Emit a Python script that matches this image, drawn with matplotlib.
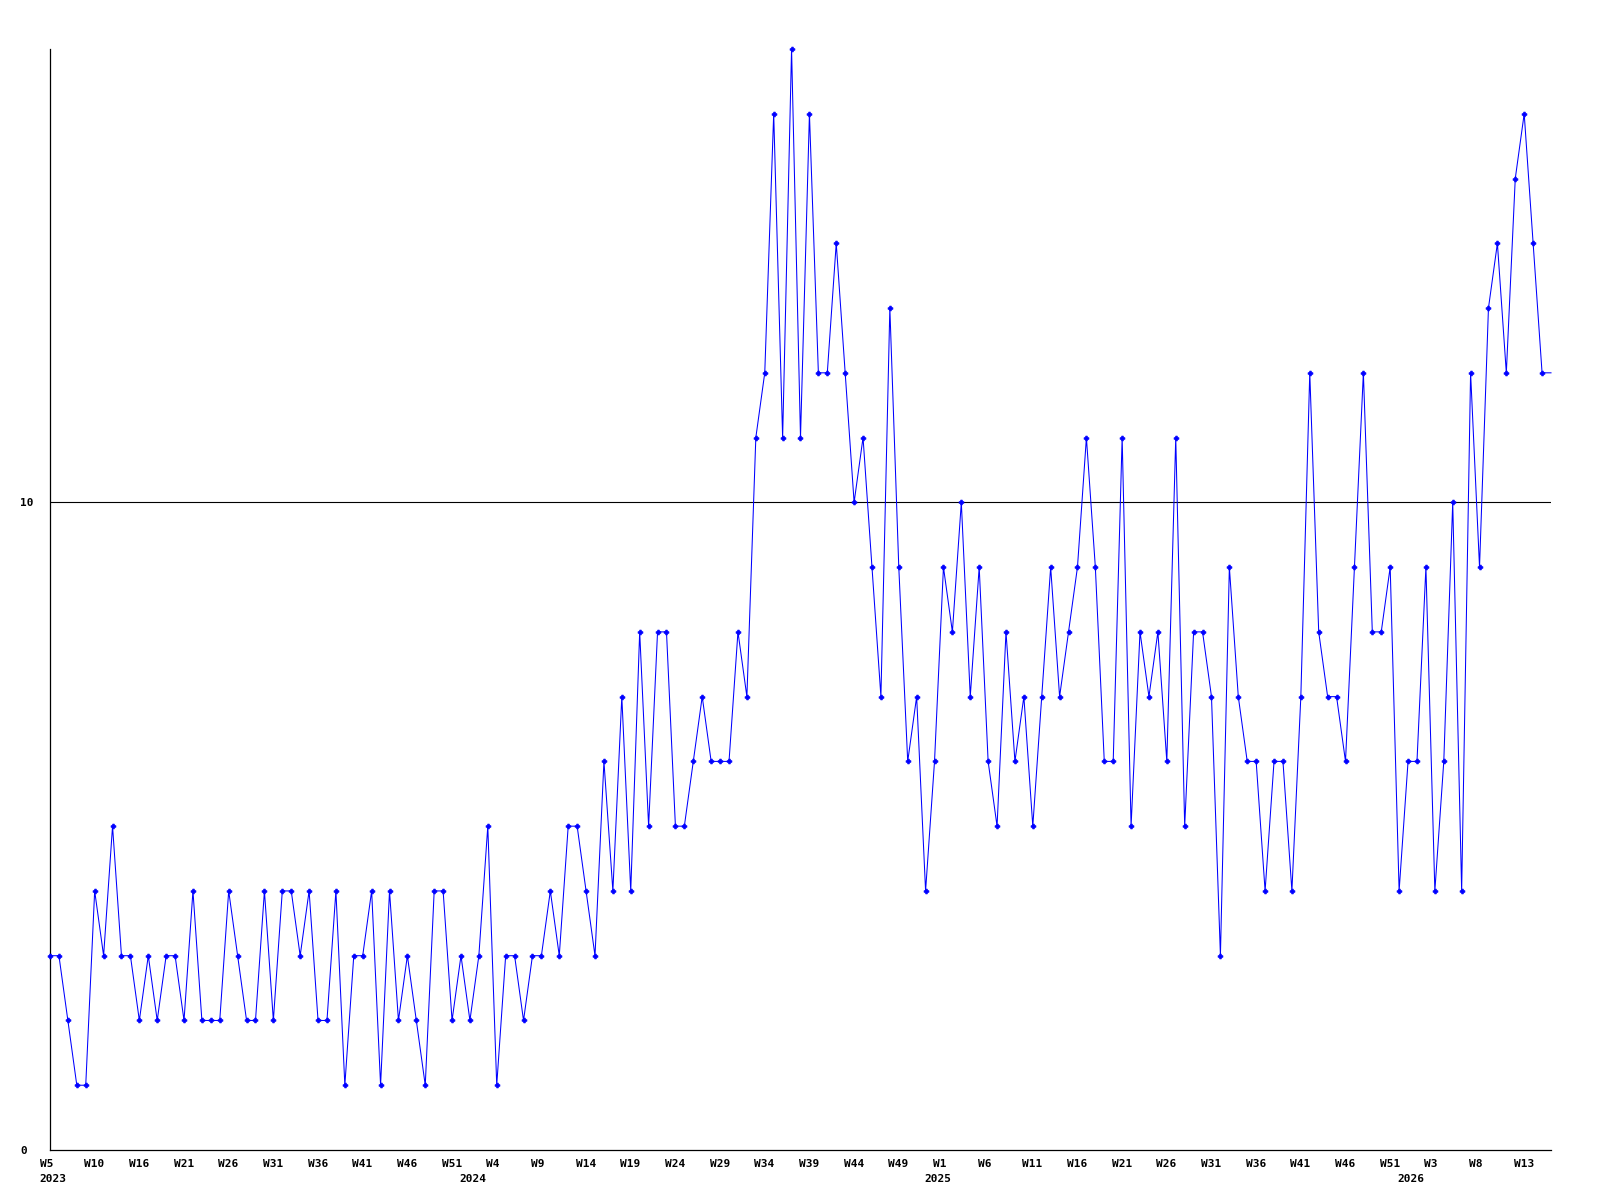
import numpy as np
import matplotlib
matplotlib.use("Agg")
import matplotlib.pyplot as plt
from matplotlib.transforms import ScaledTranslation, blended_transform_factory

# ---- data ----
values = [3, 3, 2, 1, 1, 4, 3, 5, 3, 3,
          2, 3, 2, 3, 3, 2, 4, 2, 2, 2,
          4, 3, 2, 2, 4, 2, 4, 4, 3, 4,
          2, 2, 4, 1, 3, 3, 4, 1, 4, 2,
          3, 2, 1, 4, 4, 2, 3, 2, 3, 5,
          1, 3, 3, 2, 3, 3, 4, 3, 5, 5,
          4, 3, 6, 4, 7, 4, 8, 5, 8, 8,
          5, 5, 6, 7, 6, 6, 6, 8, 7, 11,
          12, 16, 11, 17, 11, 16, 12, 12, 14, 12,
          10, 11, 9, 7, 13, 9, 6, 7, 4, 6,
          9, 8, 10, 7, 9, 6, 5, 8, 6, 7,
          5, 7, 9, 7, 8, 9, 11, 9, 6, 6,
          11, 5, 8, 7, 8, 6, 11, 5, 8, 8,
          7, 3, 9, 7, 6, 6, 4, 6, 6, 4,
          7, 12, 8, 7, 7, 6, 9, 12, 8, 8,
          9, 4, 6, 6, 9, 4, 6, 10, 4, 12,
          9, 13, 14, 12, 15, 16, 14, 12]

week_labels = ["W5", "W10", "W16", "W21", "W26", "W31", "W36", "W41", "W46", "W51",
               "W4", "W9", "W14", "W19", "W24", "W29", "W34", "W39", "W44", "W49",
               "W1", "W6", "W11", "W16", "W21", "W26", "W31", "W36", "W41", "W46",
               "W51", "W3", "W8", "W13"]
label_step = 5
year_labels = ["2023", "2024", "2025", "2026"]
year_positions = [0, 47, 99, 152]
y_ticks = [0, 10]
ref_level = 10
y_max = 17

# ---- figure ----
W, H, DPI = 1600, 1200, 100
fig = plt.figure(figsize=(W / DPI, H / DPI), dpi=DPI)
fig.patch.set_facecolor("white")
ax = fig.add_axes([50 / W, 1 - 1150 / H, (1551 - 50) / W, (1150 - 49) / H])

font = dict(family="DejaVu Sans Mono", weight="bold", size=8)

n = len(values)
x = np.arange(n + 1)
y = values + values[-1:]
ax.plot(x, y, color="#0000ff", lw=0.75, marker="P", ms=3.4, mec="#0000ff",
        mew=0.6, mfc="#0000ff", markevery=list(range(n)), clip_on=False, zorder=3)

ax.axhline(ref_level, color="black", lw=0.8, zorder=2)

ax.set_xlim(0, n)
ax.set_ylim(0, y_max)

for s in ["top", "right"]:
    ax.spines[s].set_visible(False)
for s in ["left", "bottom"]:
    ax.spines[s].set_linewidth(0.9)
    ax.spines[s].set_color("black")

# x tick labels (week)
tick_pos = np.arange(len(week_labels)) * label_step
ax.set_xticks(tick_pos)
ax.set_xticklabels(week_labels, fontdict=font)
ax.tick_params(axis="x", length=0, pad=6.5)
off = ScaledTranslation(-10.4 / DPI, 0, fig.dpi_scale_trans)
for lab in ax.get_xticklabels():
    lab.set_horizontalalignment("left")
    lab.set_transform(lab.get_transform() + off)

# year labels
trans = blended_transform_factory(ax.transData, ax.transAxes) + \
    ScaledTranslation(-10.4 / DPI, -23.5 / DPI, fig.dpi_scale_trans)
for pos, yl in zip(year_positions, year_labels):
    ax.text(pos, 0, yl, transform=trans, ha="left", va="top", **font)

# y tick labels
ax.set_yticks(y_ticks)
ax.set_yticklabels([str(v) for v in y_ticks], fontdict=font)
ax.tick_params(axis="y", length=0, pad=21.6)
for lab in ax.get_yticklabels():
    lab.set_horizontalalignment("left")

fig.savefig("out.png", dpi=DPI, facecolor="white")
